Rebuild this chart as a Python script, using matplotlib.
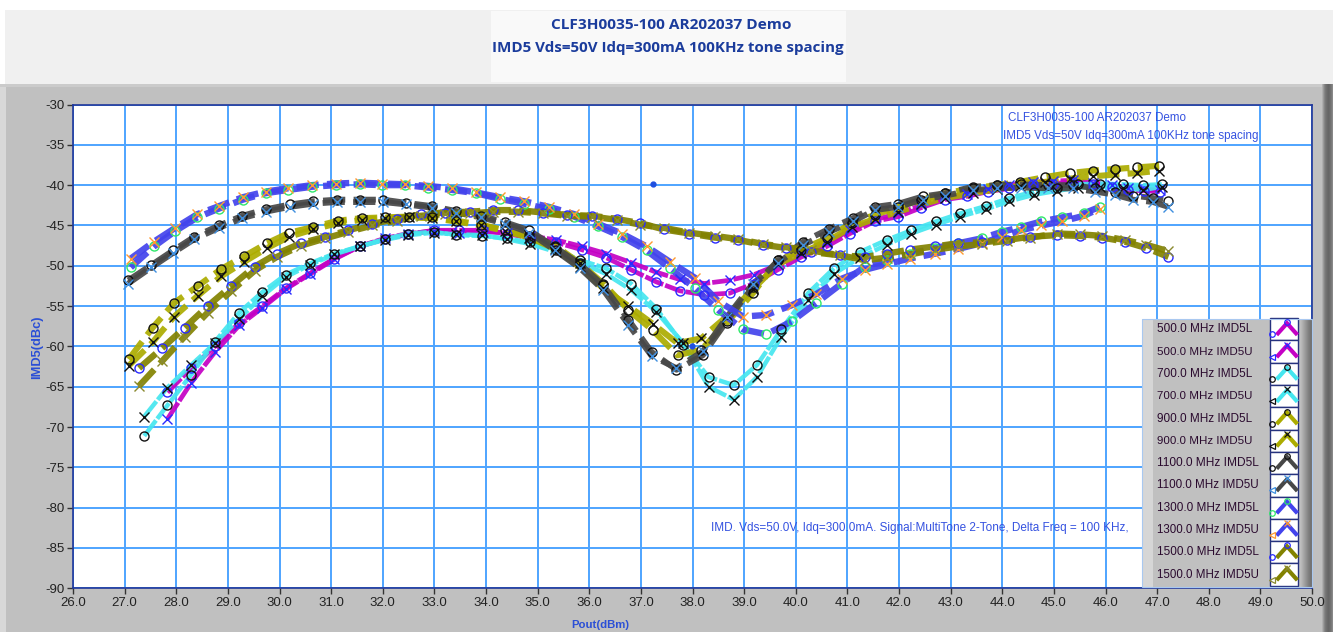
import matplotlib
matplotlib.use("Agg")
import matplotlib.pyplot as plt
import numpy as np
from matplotlib import font_manager
from matplotlib.patches import Rectangle

W, H = 1333, 632

# --- data (Pout dBm / IMD5 dBc) ---
x500 = [27.83, 28.29, 28.75, 29.22, 29.67, 30.12, 30.60, 31.06, 31.55, 32.04,
        32.49, 32.99, 33.47, 33.95, 34.40, 34.86, 35.36, 35.85, 36.33, 36.81,
        37.30, 37.75, 38.23, 38.72, 39.19, 39.65, 40.11, 40.60, 41.05, 41.53,
        41.99, 42.43, 42.89, 43.31, 43.73, 44.14, 44.60, 44.99, 45.37, 45.76,
        46.12, 46.44, 46.75, 47.05]
imd500L = [-65.7, -62.7, -60.0, -57.1, -55.0, -52.8, -50.9, -49.1, -47.6, -46.7,
           -46.1, -45.6, -45.6, -45.6, -46.0, -46.6, -47.1, -48.0, -49.0, -50.5,
           -52.0, -53.1, -53.6, -53.4, -52.2, -50.5, -48.9, -47.6, -46.0, -44.5,
           -43.9, -42.8, -41.8, -41.4, -40.8, -40.4, -39.9, -39.8, -39.6, -39.8,
           -40.2, -40.6, -40.7, -40.8]
imd500U = [-69.0, -64.5, -60.7, -57.4, -55.2, -52.9, -51.0, -49.2, -47.6, -46.6,
           -46.0, -45.7, -45.9, -45.8, -45.9, -46.3, -46.8, -47.6, -48.5, -49.6,
           -50.8, -51.7, -52.2, -51.8, -51.1, -49.9, -48.5, -47.2, -45.6, -44.3,
           -43.5, -42.5, -41.6, -41.1, -40.5, -40.0, -39.6, -39.5, -39.4, -39.7,
           -40.0, -40.3, -40.5, -40.6]

x700 = [27.38, 27.83, 28.29, 28.75, 29.22, 29.66, 30.12, 30.59, 31.06, 31.55,
        32.04, 32.49, 32.99, 33.42, 33.92, 34.40, 34.85, 35.36, 35.82, 36.32,
        36.81, 37.30, 37.82, 38.31, 38.80, 39.25, 39.72, 40.24, 40.74, 41.24,
        41.76, 42.24, 42.72, 43.19, 43.68, 44.14, 44.61, 45.07, 45.47, 45.89,
        46.33, 46.73, 47.09]
imd700L = [-71.1, -67.3, -63.5, -59.4, -55.8, -53.3, -51.1, -49.7, -48.5, -47.6,
           -46.7, -46.0, -45.8, -46.2, -46.3, -46.6, -47.1, -48.0, -49.3, -50.3,
           -52.2, -55.3, -59.8, -63.8, -64.8, -62.3, -57.9, -53.4, -50.3, -48.3,
           -46.8, -45.6, -44.5, -43.5, -42.6, -41.6, -40.8, -40.4, -39.9, -39.8,
           -39.9, -40.0, -39.9]
imd700U = [-68.7, -65.1, -62.3, -59.6, -56.6, -53.8, -51.4, -49.9, -48.6, -47.6,
           -46.8, -46.2, -45.9, -46.1, -46.2, -46.7, -47.3, -48.3, -49.6, -51.0,
           -53.0, -55.7, -59.6, -65.0, -66.6, -63.8, -58.8, -54.2, -51.0, -49.0,
           -47.4, -46.0, -44.9, -43.9, -43.0, -42.0, -41.2, -40.7, -40.3, -40.2,
           -40.3, -40.6, -40.2]

x900 = [27.08, 27.54, 27.96, 28.42, 28.87, 29.32, 29.76, 30.19, 30.65, 31.14,
        31.59, 32.04, 32.51, 32.96, 33.41, 33.90, 34.37, 34.84, 35.34, 35.82,
        36.27, 36.76, 37.23, 37.71, 38.17, 38.66, 39.17, 39.66, 40.11, 40.60,
        41.08, 41.53, 41.99, 42.43, 42.89, 43.43, 43.89, 44.34, 44.83, 45.31,
        45.76, 46.18, 46.61, 47.04]
imd900L = [-61.6, -57.7, -54.6, -52.5, -50.4, -48.8, -47.2, -45.9, -45.2, -44.4,
           -44.1, -44.0, -43.9, -44.0, -44.4, -44.9, -45.6, -46.3, -47.5, -49.7,
           -52.2, -55.5, -58.0, -61.1, -60.4, -57.1, -53.4, -49.3, -48.0, -46.6,
           -44.7, -43.7, -42.7, -41.8, -41.0, -40.4, -40.0, -39.6, -39.0, -38.5,
           -38.2, -38.0, -37.8, -37.6]
imd900U = [-62.4, -59.5, -56.3, -53.7, -51.3, -49.5, -47.8, -46.4, -45.5, -44.7,
           -44.3, -44.1, -44.0, -44.1, -44.5, -45.0, -45.7, -46.5, -47.9, -50.2,
           -52.8, -55.0, -57.2, -59.6, -59.0, -56.3, -52.9, -49.8, -48.4, -47.0,
           -45.2, -44.2, -43.3, -42.4, -41.6, -41.0, -40.5, -40.1, -39.6, -39.2,
           -38.9, -38.7, -38.5, -38.2]

x1100 = [27.07, 27.52, 27.94, 28.35, 28.83, 29.28, 29.73, 30.20, 30.65, 31.11,
         31.55, 32.01, 32.46, 32.95, 33.41, 33.90, 34.37, 34.84, 35.34, 35.82,
         36.27, 36.76, 37.21, 37.69, 38.20, 38.66, 39.17, 39.66, 40.15, 40.65,
         41.11, 41.53, 41.99, 42.46, 42.90, 43.43, 43.89, 44.37, 44.88, 45.37,
         45.80, 46.18, 46.53, 46.92, 47.22]
imd1100L = [-51.8, -49.9, -48.1, -46.4, -45.0, -43.8, -43.0, -42.4, -42.0, -41.8,
            -41.8, -41.8, -42.2, -42.6, -43.2, -43.8, -44.6, -45.6, -47.7, -49.8,
            -52.4, -56.7, -60.7, -62.9, -61.1, -56.9, -52.6, -49.3, -47.0, -45.4,
            -44.1, -42.7, -42.3, -41.4, -41.0, -40.2, -40.0, -39.9, -40.0, -40.0,
            -40.4, -40.8, -41.3, -41.6, -42.0]
imd1100U = [-52.2, -50.2, -48.4, -46.7, -45.3, -44.1, -43.3, -42.7, -42.3, -42.1,
            -42.1, -42.1, -42.4, -42.8, -43.4, -44.0, -44.8, -45.9, -48.1, -50.3,
            -53.0, -57.3, -61.2, -62.7, -60.6, -56.4, -52.2, -49.6, -47.4, -45.8,
            -44.5, -43.1, -42.7, -41.8, -41.3, -40.6, -40.4, -40.3, -40.4, -40.4,
            -40.8, -41.2, -41.8, -42.1, -42.7]

x1300 = [27.12, 27.57, 27.98, 28.41, 28.83, 29.29, 29.73, 30.16, 30.63, 31.09,
         31.55, 31.98, 32.44, 32.88, 33.35, 33.80, 34.27, 34.74, 35.22, 35.71,
         36.17, 36.63, 37.11, 37.56, 38.05, 38.50, 38.98, 39.43, 39.92, 40.40,
         40.89, 41.34, 41.76, 42.21, 42.70, 43.15, 43.60, 43.99, 44.36, 44.76,
         45.16, 45.58, 45.89]
imd1300L = [-50.2, -47.6, -45.7, -44.0, -42.9, -41.8, -41.0, -40.6, -40.2, -40.0,
            -39.9, -40.0, -40.0, -40.3, -40.6, -41.0, -41.7, -42.3, -43.0, -43.9,
            -45.1, -46.4, -48.1, -50.3, -52.8, -55.5, -57.9, -58.5, -56.9, -54.6,
            -52.2, -50.1, -49.3, -48.5, -47.8, -47.2, -46.6, -45.8, -45.2, -44.5,
            -44.0, -43.5, -42.7]
imd1300U = [-49.1, -47.0, -45.3, -43.6, -42.6, -41.5, -40.8, -40.4, -40.0, -39.8,
            -39.7, -39.8, -39.9, -40.1, -40.4, -40.9, -41.5, -42.0, -42.7, -43.6,
            -44.8, -46.0, -47.6, -49.5, -51.5, -54.4, -56.3, -56.1, -54.9, -53.5,
            -51.6, -50.5, -49.8, -49.1, -48.5, -47.9, -47.2, -46.4, -45.6, -45.0,
            -44.5, -43.8, -42.9]

x1500 = [27.28, 27.73, 28.16, 28.61, 29.07, 29.52, 29.95, 30.42, 30.89, 31.33,
         31.80, 32.27, 32.74, 33.20, 33.69, 34.14, 34.62, 35.11, 35.57, 36.06,
         36.53, 36.98, 37.45, 37.94, 38.43, 38.89, 39.37, 39.82, 40.30, 40.85,
         41.34, 41.76, 42.21, 42.70, 43.15, 43.60, 44.09, 44.54, 45.06, 45.51,
         45.94, 46.37, 46.79, 47.22]
imd1500L = [-62.7, -60.2, -57.7, -55.0, -52.5, -50.1, -48.5, -47.2, -46.4, -45.6,
            -44.8, -44.2, -43.6, -43.4, -43.3, -43.1, -43.1, -43.4, -43.7, -43.8,
            -44.2, -44.7, -45.5, -46.0, -46.5, -46.8, -47.4, -47.8, -48.3, -48.7,
            -48.9, -48.5, -48.0, -47.6, -47.2, -47.1, -46.8, -46.4, -46.2, -46.3,
            -46.5, -47.0, -47.8, -48.9]
imd1500U = [-64.9, -61.8, -58.8, -55.8, -53.1, -50.6, -48.9, -47.5, -46.6, -45.8,
            -45.0, -44.4, -43.8, -43.6, -43.5, -43.3, -43.3, -43.5, -43.8, -43.9,
            -44.3, -44.9, -45.3, -45.9, -46.3, -46.7, -47.3, -47.7, -48.1, -48.7,
            -49.3, -49.0, -48.6, -48.0, -47.6, -47.3, -46.9, -46.5, -46.0, -46.1,
            -46.3, -46.8, -47.4, -48.2]

# stray single points
stray_x = [37.23, 37.99]
stray_y = [-39.9, -60.0]

legend_labels = ["500.0 MHz IMD5L", "500.0 MHz IMD5U", "700.0 MHz IMD5L", "700.0 MHz IMD5U",
                 "900.0 MHz IMD5L", "900.0 MHz IMD5U", "1100.0 MHz IMD5L", "1100.0 MHz IMD5U",
                 "1300.0 MHz IMD5L", "1300.0 MHz IMD5U", "1500.0 MHz IMD5L", "1500.0 MHz IMD5U"]

x_ticks = np.arange(26, 50.5, 1.0)
y_ticks = np.arange(-90, -29, 5)

# line colour, marker, marker colour, dash pattern, width per trace
C_MAG, C_CYA, C_OLV, C_GRY, C_BLU, C_DOL = "#c400c4", "#45e6ef", "#acac00", "#474747", "#4343ec", "#828200"
traces = [
    (x500, imd500L, C_MAG, "o", "#2a2aff", (14, 1.5), 3.4),
    (x500, imd500U, C_MAG, "x", "#2a2aff", (14, 1.5), 3.4),
    (x700, imd700L, C_CYA, "o", "#111111", (14, 1.5), 3.2),
    (x700, imd700U, C_CYA, "x", "#111111", (14, 1.5), 3.2),
    (x900, imd900L, C_OLV, "o", "#111111", (16, 6), 4.4),
    (x900, imd900U, C_OLV, "x", "#111111", (16, 6), 4.4),
    (x1100, imd1100L, C_GRY, "o", "#111111", (16, 6), 4.2),
    (x1100, imd1100U, C_GRY, "x", "#3f8fdf", (16, 6), 4.2),
    (x1300, imd1300L, C_BLU, "o", "#2ee86a", (16, 6), 4.6),
    (x1300, imd1300U, C_BLU, "x", "#ff9a30", (16, 6), 4.6),
    (x1500, imd1500L, C_DOL, "o", "#2a2aff", (16, 6), 4.6),
    (x1500, imd1500U, C_DOL, "x", "#8a8a30", (16, 6), 4.6),
]

names = {f.name for f in font_manager.fontManager.ttflist}
narrow = "Liberation Sans Narrow" if "Liberation Sans Narrow" in names else "Liberation Sans"
bold_font = "Open Sans" if "Open Sans" in names else "DejaVu Sans"
plt.rcParams["font.family"] = [narrow, "DejaVu Sans"]
plt.rcParams["lines.scale_dashes"] = False

fig = plt.figure(figsize=(W / 100, H / 100), dpi=100)
fig.patch.set_facecolor("white")
renderer = fig.canvas.get_renderer()


def px_axes(z):
    a = fig.add_axes([0, 0, 1, 1], zorder=z)
    a.set_xlim(0, W)
    a.set_ylim(H, 0)
    a.axis("off")
    return a


def fit(t, width, vertical=False):
    # scale a text so that it spans the width seen in the reference
    bb = t.get_window_extent(renderer)
    cur = bb.height if vertical else bb.width
    t.set_fontsize(t.get_fontsize() * width / cur)
    return t


bg = px_axes(0)
# window background pieces
bg.add_patch(Rectangle((5, 10), W - 5, 74, color="#f0f0f0", lw=0))
bg.add_patch(Rectangle((491, 11), 355, 71, color="#f9f9f9", lw=0))
bg.add_patch(Rectangle((0, 84), W, H - 84, color="#c0c0c0", lw=0))
bg.add_patch(Rectangle((0, 84), 6, H - 84, color="#d8d8d8", lw=0))
bg.add_patch(Rectangle((0, 84), W, 3, color="#cbcbcb", lw=0))
for i, c in enumerate(["#b0b0b0", "#9a9a9a", "#868686", "#787878", "#707070", "#6a6a6a",
                       "#666666", "#6a6a6a", "#707070", "#7a7a7a", "#888888"]):
    bg.add_patch(Rectangle((1322 + i, 84), 1, H - 84, color=c, lw=0))

fit(bg.text(671, 25, "CLF3H0035-100 AR202037 Demo", ha="center", va="center",
            color="#1b3c9c", fontweight="bold", family=bold_font, fontsize=10.5), 242)
fit(bg.text(668, 48, "IMD5 Vds=50V Idq=300mA 100KHz tone spacing", ha="center", va="center",
            color="#1b3c9c", fontweight="bold", family=bold_font, fontsize=10.5), 353)
fit(bg.text(37, 347, "IMD5(dBc)", rotation=90, ha="center", va="center",
            color="#2b4fd6", fontweight="bold", fontsize=8), 64, vertical=True)
fit(bg.text(600, 625, "Pout(dBm)", ha="center", va="center",
            color="#2b4fd6", fontweight="bold", fontsize=8), 58)

# plot area
L, R, T, B = 73, 1312, 104.5, 588.3
ax = fig.add_axes([L / W, 1 - B / H, (R - L) / W, (B - T) / H], zorder=5)
ax.set_facecolor("white")
ax.set_xlim(26, 50)
ax.set_ylim(-90, -30)
ax.set_xticks(x_ticks)
ax.set_xticklabels([f"{v:.1f}" for v in x_ticks])
ax.set_yticks(y_ticks)
ax.set_yticklabels([f"{v:d}" for v in y_ticks])
ax.grid(True, color="#4ea4ff", lw=1.4)
ax.set_axisbelow(True)
ax.tick_params(direction="out", length=4, width=1, color="#333333",
               labelsize=9.5, labelcolor="#222222", pad=2)
for s in ax.spines.values():
    s.set_color("#20379a")
    s.set_linewidth(1.2)

for xs, ys, lc, mk, mc, dash, lw in traces:
    ax.plot(xs, ys, color=lc, lw=lw, dashes=dash, alpha=0.92, solid_capstyle="butt",
            dash_capstyle="butt", zorder=2)
    ax.plot(xs, ys, ls="none", marker=mk, ms=6.5, mfc="none", mec=mc, mew=1.0, zorder=3)

ax.plot(stray_x, stray_y, ls="none", marker="o", ms=3.5, color="#1f4fe0", zorder=3)

txt_c = "#3552e0"
fg = px_axes(10)
fg.patch.set_alpha(0)
note2 = fit(fg.text(1003, 136, "IMD5 Vds=50V Idq=300mA 100KHz tone spacing", fontsize=10,
                    color=txt_c, va="center", ha="left"), 256)
fg.text(1008, 118, "CLF3H0035-100 AR202037 Demo", fontsize=note2.get_fontsize(), color=txt_c,
        va="center", ha="left")
fit(fg.text(711, 528, "IMD. Vds=50.0V, Idq=300.0mA. Signal:MultiTone 2-Tone, Delta Freq = 100 KHz,",
            fontsize=10, color=txt_c, va="center", ha="left"), 417)

# legend panel
lx0, lx1, ly0, ly1 = 1142, 1312, 319, 587
fg.add_patch(Rectangle((lx0, ly0), lx1 - lx0, ly1 - ly0, color="#c0c0c0", lw=0, zorder=1))
fg.add_patch(Rectangle((lx0, ly0), 11, ly1 - ly0, color="#d6d6d6", lw=0, zorder=1))
for i, c in enumerate(["#c8c8c8", "#c4c4c4", "#bebebe", "#b8b8b8", "#b0b0b0", "#a8a8a8", "#a0a0a0",
                       "#989898", "#909090", "#888888", "#808080", "#7a7a7a", "#747474", "#707070"]):
    fg.add_patch(Rectangle((1298 + i, ly0), 1, ly1 - ly0, color=c, lw=0, zorder=1))
fg.add_patch(Rectangle((lx0, ly0), lx1 - lx0, ly1 - ly0, fill=False, ec="#a9c8f0", lw=0.8, zorder=4))

row_h = 22.3
bx0, bx1 = 1269.5, 1298
for i, (lab, tr) in enumerate(zip(legend_labels, traces)):
    yc = 329.3 + i * row_h
    t = fg.text(1157, yc, lab, fontsize=9.5, color="#2a0a2e", va="center", ha="left", zorder=3)
    fit(t, 95 if lab.startswith(("5", "7", "9")) else 102)
    fg.add_patch(Rectangle((bx0, yc - row_h / 2), bx1 - bx0, row_h, fc="white",
                           ec="#26327e", lw=1.0, zorder=2))
    lc, mk, mc = tr[2], tr[3], tr[4]
    fg.plot([1278, 1287, 1296], [yc + 4, yc - 6, yc + 4], color=lc, lw=3.0,
            solid_joinstyle="miter", zorder=3)
    fg.plot([1287], [yc - 7], marker=mk, ms=4, mfc="none", mec=mc, mew=0.9, zorder=4)
    fg.plot([1271.5], [yc + 5], marker="o" if mk == "o" else "<", ms=4, mfc="none",
            mec=mc, mew=0.9, zorder=4)

fig.savefig("out.png", dpi=100)
